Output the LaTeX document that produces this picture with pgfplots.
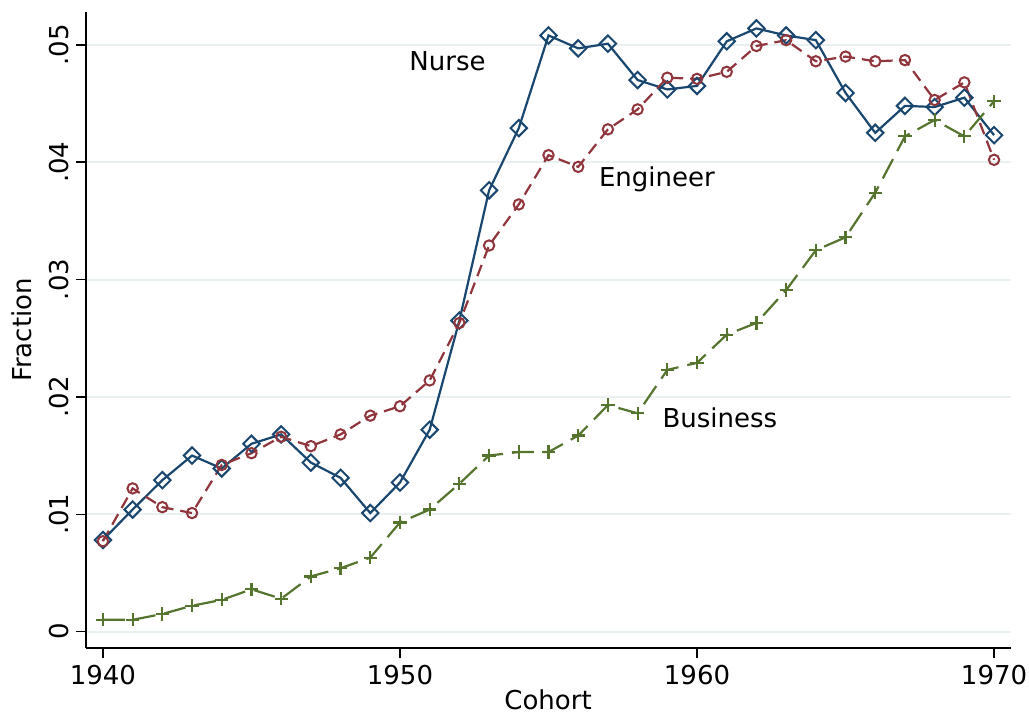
\documentclass[border=0pt]{standalone}
\usepackage{pgfplots}
\pgfplotsset{compat=1.18}
\usepackage{fontspec}
\setmainfont{DejaVu Sans}
\definecolor{snavy}{RGB}{26,71,111}
\definecolor{smaroon}{RGB}{144,53,59}
\definecolor{sforest}{RGB}{85,117,47}
\definecolor{sgrid}{RGB}{232,240,242}
\begin{document}
\begin{tikzpicture}
\begin{axis}[
  scale only axis,
  width=462.5pt, height=318pt,
  xmin=1939.43, xmax=1970.57,
  ymin=-0.0014, ymax=0.0528,
  axis x line*=bottom, axis y line*=left,
  axis line style={-, line width=0.7pt},
  tick align=outside,
  major tick length=5pt,
  tick style={line width=0.7pt, black},
  scaled ticks=false,
  xtick={1940,1950,1960,1970},
  xticklabels={1940,1950,1960,1970},
  ytick={0,0.01,0.02,0.03,0.04,0.05},
  yticklabels={0,.01,.02,.03,.04,.05},
  ymajorgrids,
  grid style={sgrid, line width=1pt},
  tick label style={font=\fontsize{13}{15}\selectfont},
  yticklabel style={rotate=90, anchor=south},
  label style={font=\fontsize{13}{15}\selectfont},
  xlabel={Cohort},
  ylabel={Fraction},
  xlabel style={at={(axis description cs:0.4995,-0.081)}, anchor=center},
  ylabel style={at={(axis description cs:-0.069,0.5)}, anchor=center, rotate=0},
  clip=false,
]
\coordinate (sw) at (rel axis cs:0,0);
\addplot[snavy, line width=1.1pt, mark=square, mark size=2.9pt,
  mark options={solid, rotate=45, line width=1pt}] coordinates {
(1940,0.0078)(1941,0.0104)(1942,0.0129)(1943,0.0150)(1944,0.0139)(1945,0.0160)
(1946,0.0168)(1947,0.0144)(1948,0.0131)(1949,0.0101)(1950,0.0127)(1951,0.0172)
(1952,0.0265)(1953,0.0376)(1954,0.0429)(1955,0.0508)(1956,0.0497)(1957,0.0501)
(1958,0.0470)(1959,0.0462)(1960,0.0465)(1961,0.0503)(1962,0.0514)(1963,0.0508)
(1964,0.0504)(1965,0.0459)(1966,0.0425)(1967,0.0448)(1968,0.0447)(1969,0.0455)
(1970,0.0423)};
\addplot[smaroon, line width=1.1pt, dash pattern=on 6pt off 3.5pt, mark=o, mark size=2.6pt,
  mark options={solid, line width=1pt}] coordinates {
(1940,0.0077)(1941,0.0122)(1942,0.0106)(1943,0.0101)(1944,0.0142)(1945,0.0152)
(1946,0.0166)(1947,0.0158)(1948,0.0168)(1949,0.0184)(1950,0.0192)(1951,0.0214)
(1952,0.0263)(1953,0.0329)(1954,0.0364)(1955,0.0406)(1956,0.0396)(1957,0.0428)
(1958,0.0445)(1959,0.0472)(1960,0.0471)(1961,0.0477)(1962,0.0499)(1963,0.0504)
(1964,0.0486)(1965,0.0490)(1966,0.0486)(1967,0.0487)(1968,0.0453)(1969,0.0468)
(1970,0.0402)};
\addplot[sforest, line width=1.1pt, dash pattern=on 11pt off 4.5pt, mark=+, mark size=3.3pt,
  mark options={solid, line width=1.1pt}] coordinates {
(1940,0.0010)(1941,0.0010)(1942,0.0015)(1943,0.0022)(1944,0.0027)(1945,0.0036)
(1946,0.0028)(1947,0.0047)(1948,0.0054)(1949,0.0063)(1950,0.0093)(1951,0.0104)
(1952,0.0126)(1953,0.0150)(1954,0.0153)(1955,0.0153)(1956,0.0167)(1957,0.0193)
(1958,0.0186)(1959,0.0223)(1960,0.0229)(1961,0.0253)(1962,0.0263)(1963,0.0291)
(1964,0.0325)(1965,0.0336)(1966,0.0374)(1967,0.0422)(1968,0.0436)(1969,0.0422)
(1970,0.0452)};
\node[font=\fontsize{13}{15}\selectfont] at (axis cs:1951.6,0.0486) {Nurse};
\node[font=\fontsize{13}{15}\selectfont] at (axis cs:1958.65,0.0385) {Engineer};
\node[font=\fontsize{13}{15}\selectfont] at (axis cs:1960.77,0.0182) {Business};
\end{axis}
\pgfresetboundingbox
\path (sw) ++(-43pt,-33.5pt) rectangle ++(514.5pt,357.5pt);
\end{tikzpicture}
\end{document}
